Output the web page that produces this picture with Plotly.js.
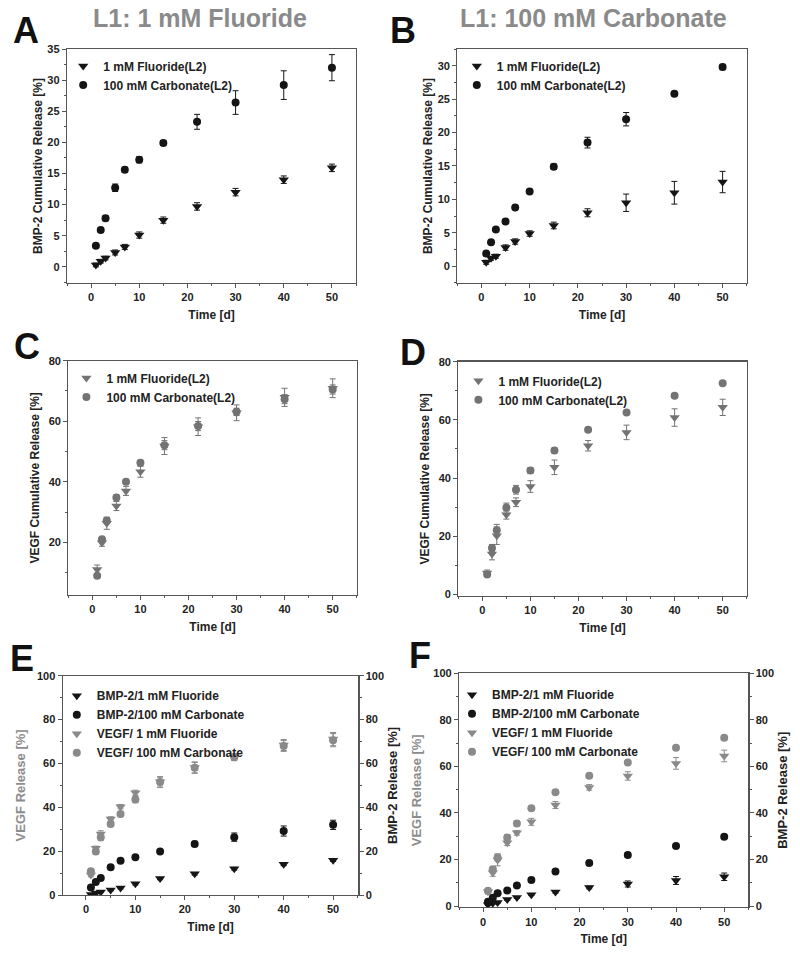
<!DOCTYPE html>
<html>
<head>
<meta charset="utf-8">
<script src="https://cdn.plot.ly/plotly-3.0.1.min.js"></script>
<style>html,body{margin:0;padding:0;background:#fff;}#chart{width:800px;height:954px;}</style>
</head>
<body>
<div id="chart"></div>
<script>
// Time points (days)
const days = [1, 2, 3, 5, 7, 10, 15, 22, 30, 40, 50];

// Panel A: L1 = 1 mM Fluoride, BMP-2 cumulative release
const aFluoride = [0.3, 0.9, 1.4, 2.3, 3.2, 5.1, 7.5, 9.7, 12.0, 14.0, 15.9];
const aFluorideErr = [0.3, 0.3, 0.3, 0.4, 0.4, 0.5, 0.5, 0.6, 0.6, 0.6, 0.6];
const aCarbonate = [3.4, 5.9, 7.8, 12.7, 15.6, 17.2, 19.9, 23.3, 26.4, 29.2, 32.0];
const aCarbonateErr = [0.3, 0.3, 0.4, 0.6, 0.4, 0.5, 0.4, 1.2, 1.9, 2.3, 2.1];

// Panel B: L1 = 100 mM Carbonate, BMP-2 cumulative release
const bFluoride = [0.6, 1.2, 1.5, 2.8, 3.7, 4.9, 6.1, 8.0, 9.5, 11.0, 12.6];
const bFluorideErr = [0.3, 0.3, 0.3, 0.4, 0.4, 0.4, 0.5, 0.6, 1.3, 1.7, 1.6];
const bCarbonate = [1.9, 3.6, 5.5, 6.7, 8.8, 11.2, 14.9, 18.5, 22.0, 25.8, 29.8];
const bCarbonateErr = [0.2, 0.3, 0.3, 0.3, 0.3, 0.3, 0.4, 0.8, 1.0, 0.3, 0.4];

// Panel C: L1 = 1 mM Fluoride, VEGF cumulative release
const cFluoride = [11.0, 19.9, 26.3, 32.0, 37.0, 43.3, 51.8, 58.2, 62.8, 67.9, 70.9];
const cFluorideErr = [1.5, 1.2, 2.0, 1.5, 1.5, 1.8, 2.8, 2.9, 2.6, 3.0, 3.1];
const cCarbonate = [9.0, 21.0, 27.2, 34.8, 40.0, 46.3, 52.1, 58.4, 63.1, 67.3, 70.5];
const cCarbonateErr = [0.6, 0.8, 1.0, 0.8, 0.8, 0.8, 1.5, 1.5, 1.2, 1.5, 1.5];

// Panel D: L1 = 100 mM Carbonate, VEGF cumulative release
const dFluoride = [7.4, 13.9, 20.2, 27.4, 31.7, 37.1, 43.7, 51.1, 55.7, 60.8, 64.3];
const dFluorideErr = [1.0, 2.0, 3.0, 1.5, 1.5, 2.0, 2.5, 1.8, 2.5, 3.0, 2.8];
const dCarbonate = [6.9, 16.0, 22.1, 29.9, 36.0, 42.6, 49.5, 56.6, 62.5, 68.3, 72.6];
const dCarbonateErr = [0.5, 1.2, 2.0, 1.5, 1.5, 1.0, 0.8, 0.5, 0.5, 0.5, 0.5];

// Panel E: VEGF (left axis) as drawn in the combined panel
const eVegfFluoride = [9.1, 21.3, 27.8, 34.7, 40.3, 46.6, 51.7, 58.2, 63.1, 68.4, 71.1];
const eVegfFluorideErr = [0.8, 1.0, 1.5, 1.0, 1.0, 1.2, 2.0, 2.5, 1.2, 2.5, 3.0];
const eVegfCarbonate = [10.9, 19.8, 26.3, 32.4, 36.9, 43.6, 51.5, 58.0, 62.8, 68.0, 70.6];
const eVegfCarbonateErr = [1.0, 1.2, 1.5, 1.2, 1.2, 1.5, 2.5, 2.5, 1.5, 2.5, 3.0];

// Panel F: VEGF (left axis) as drawn in the combined panel
const fVegfFluoride = [6.2, 14.3, 19.8, 27.2, 31.5, 36.2, 43.4, 51.0, 55.9, 61.3, 64.5];
const fVegfFluorideErr = [1.0, 1.5, 2.5, 1.2, 1.0, 1.5, 1.5, 1.2, 1.8, 2.5, 2.5];
const fVegfCarbonate = [6.6, 15.8, 20.9, 29.5, 35.5, 42.0, 48.9, 56.0, 61.7, 68.0, 72.3];
const fVegfCarbonateErr = [0.5, 1.0, 1.5, 1.2, 1.0, 0.8, 0.8, 0.5, 0.5, 0.5, 0.5];

// Labels
const legendAB = ['1 mM Fluoride(L2)', '100 mM Carbonate(L2)'];
const legendEF = ['BMP-2/1 mM Fluoride', 'BMP-2/100 mM Carbonate', 'VEGF/ 1 mM Fluoride', 'VEGF/ 100 mM Carbonate'];
const panelTitles = ['L1: 1 mM Fluoride', 'L1: 100 mM Carbonate'];
const panelLetters = ['A', 'B', 'C', 'D', 'E', 'F'];

const FONT = 'Liberation Sans, Arial, Helvetica, sans-serif';
const BLACK = '#151515';
const GRAY = '#737373';
const LGRAY = '#8a8a8a';
const AXC = '#555555';

function pts(x, y, err, sym, color, size, name, xa, ya, leg) {
  return {
    type: 'scatter', mode: 'markers', x: x, y: y, name: name,
    xaxis: xa, yaxis: ya, legend: leg,
    marker: {symbol: sym, color: color, size: size, line: {width: 0}},
    error_y: {type: 'data', array: err, visible: true, color: color, thickness: 1, width: 3}
  };
}

const data = [
  pts(days, aFluoride, aFluorideErr, 'triangle-down', BLACK, 9, legendAB[0], 'x', 'y', 'legend'),
  pts(days, aCarbonate, aCarbonateErr, 'circle', BLACK, 8, legendAB[1], 'x', 'y', 'legend'),
  pts(days, bFluoride, bFluorideErr, 'triangle-down', BLACK, 9, legendAB[0], 'x2', 'y2', 'legend2'),
  pts(days, bCarbonate, bCarbonateErr, 'circle', BLACK, 8, legendAB[1], 'x2', 'y2', 'legend2'),
  pts(days, cFluoride, cFluorideErr, 'triangle-down', GRAY, 9, legendAB[0], 'x3', 'y3', 'legend3'),
  pts(days, cCarbonate, cCarbonateErr, 'circle', GRAY, 8, legendAB[1], 'x3', 'y3', 'legend3'),
  pts(days, dFluoride, dFluorideErr, 'triangle-down', GRAY, 9, legendAB[0], 'x4', 'y4', 'legend4'),
  pts(days, dCarbonate, dCarbonateErr, 'circle', GRAY, 8, legendAB[1], 'x4', 'y4', 'legend4'),
  // Panel E
  pts(days, eVegfCarbonate, eVegfCarbonateErr, 'circle', LGRAY, 8, legendEF[3], 'x5', 'y5', 'legend5'),
  pts(days, eVegfFluoride, eVegfFluorideErr, 'triangle-down', LGRAY, 9, legendEF[2], 'x5', 'y5', 'legend5'),
  pts(days, aFluoride, aFluorideErr, 'triangle-down', BLACK, 9, legendEF[0], 'x5', 'y7', 'legend5'),
  pts(days, aCarbonate, aCarbonateErr, 'circle', BLACK, 8, legendEF[1], 'x5', 'y7', 'legend5'),
  // Panel F
  pts(days, fVegfFluoride, fVegfFluorideErr, 'triangle-down', LGRAY, 9, legendEF[2], 'x6', 'y6', 'legend6'),
  pts(days, fVegfCarbonate, fVegfCarbonateErr, 'circle', LGRAY, 8, legendEF[3], 'x6', 'y6', 'legend6'),
  pts(days, bFluoride, bFluorideErr, 'triangle-down', BLACK, 9, legendEF[0], 'x6', 'y8', 'legend6'),
  pts(days, bCarbonate, bCarbonateErr, 'circle', BLACK, 8, legendEF[1], 'x6', 'y8', 'legend6')
];
// legend order for E/F: BMP-2 first
data[8].legendrank = 4; data[9].legendrank = 3; data[10].legendrank = 1; data[11].legendrank = 2;
data[12].legendrank = 3; data[13].legendrank = 4; data[14].legendrank = 1; data[15].legendrank = 2;

const tickFont = {family: FONT, size: 11, color: '#222', weight: 'bold'};
const titleFont = {family: FONT, size: 12, color: '#222', weight: 'bold'};

function xax(domain, range, anchor) {
  return {
    domain: domain, range: range, anchor: anchor, tick0: 0, dtick: 10,
    ticks: 'outside', ticklen: 4, tickcolor: AXC, tickwidth: 1,
    minor: {dtick: 5, tick0: 0, ticks: 'outside', ticklen: 2, tickcolor: AXC},
    showline: true, linecolor: AXC, linewidth: 1.2, mirror: true,
    showgrid: false, zeroline: false, tickfont: tickFont,
    title: {text: 'Time [d]', font: titleFont, standoff: 8}
  };
}
function yax(domain, range, anchor, dtick, title, tcolor, standoff) {
  return {
    domain: domain, range: range, anchor: anchor, tick0: 0, dtick: dtick,
    ticks: 'outside', ticklen: 4, tickcolor: AXC, tickwidth: 1,
    minor: {dtick: dtick / 2, tick0: 0, ticks: 'outside', ticklen: 2, tickcolor: AXC},
    showline: true, linecolor: AXC, linewidth: 1.2, mirror: true,
    showgrid: false, zeroline: false, tickfont: tickFont,
    title: {text: title, font: Object.assign({}, titleFont, {color: tcolor, size: tcolor === '#222' ? 12 : 13}), standoff: standoff}
  };
}
function yright(domain, overlay, anchor) {
  return {
    overlaying: overlay, side: 'right', anchor: anchor, range: [overlay === 'y5' ? 0 : -0.5, 100],
    tick0: 0, dtick: 20, ticks: 'outside', ticklen: 4, tickcolor: AXC,
    minor: {dtick: 10, tick0: 0, ticks: 'outside', ticklen: 2, tickcolor: AXC},
    showline: true, linecolor: AXC, linewidth: 1.2, showgrid: false, zeroline: false,
    tickfont: tickFont,
    title: {text: 'BMP-2 Release [%]', font: Object.assign({}, titleFont, {size: 13}), standoff: 4}
  };
}
function leg(x, y) {
  return {x: x, y: y, xanchor: 'left', yanchor: 'top', bgcolor: 'rgba(0,0,0,0)', borderwidth: 0,
    font: {family: FONT, size: 12, color: '#222', weight: 'bold'}, itemwidth: 30, tracegroupgap: 0};
}

const layout = {
  width: 800, height: 954,
  margin: {l: 0, r: 0, t: 0, b: 0},
  paper_bgcolor: '#fff', plot_bgcolor: '#fff',
  showlegend: true,
  xaxis: xax([0.08375, 0.445], [-5, 55], 'y'),
  yaxis: yax([0.7034, 0.9486], [-2.6, 35], 'x', 5, 'BMP-2 Cumulative Release [%]', '#222', 2),
  xaxis2: xax([0.5716, 0.9334], [-5, 55], 'y2'),
  yaxis2: yax([0.7034, 0.9486], [-2.5, 32.5], 'x2', 5, 'BMP-2 Cumulative Release [%]', '#222', 2),
  xaxis3: xax([0.0854, 0.4459], [-5, 55], 'y3'),
  yaxis3: yax([0.3763, 0.6219], [2.6, 80], 'x3', 20, 'VEGF Cumulative Release [%]', '#222', 6),
  xaxis4: xax([0.5729, 0.9334], [-5, 55], 'y4'),
  yaxis4: yax([0.3753, 0.6209], [-0.5, 80], 'x4', 20, 'VEGF Cumulative Release [%]', '#222', 6),
  xaxis5: xax([0.0784, 0.4479], [-4.7, 55.1], 'y5'),
  yaxis5: yax([0.0618, 0.2917], [0, 100], 'x5', 20, 'VEGF Release [%]', '#8c8c8c', 8),
  xaxis6: xax([0.5738, 0.9354], [-5, 55], 'y6'),
  yaxis6: yax([0.0490, 0.2942], [-0.5, 100], 'x6', 20, 'VEGF Release [%]', '#8c8c8c', 8),
  yaxis7: yright(null, 'y5', 'x5'),
  yaxis8: yright(null, 'y6', 'x6'),
  legend: leg(0.079, 0.946),
  legend2: leg(0.571, 0.946),
  legend3: leg(0.083, 0.619),
  legend4: leg(0.573, 0.616),
  legend5: leg(0.071, 0.286),
  legend6: leg(0.565, 0.287),
  annotations: [
    {text: panelTitles[0], x: 200 / 800, y: 1 - 18 / 954, xref: 'paper', yref: 'paper', showarrow: false,
      xanchor: 'center', yanchor: 'middle', font: {family: FONT, size: 25, color: '#8a8a8a', weight: 'bold'}},
    {text: panelTitles[1], x: 593 / 800, y: 1 - 18 / 954, xref: 'paper', yref: 'paper', showarrow: false,
      xanchor: 'center', yanchor: 'middle', font: {family: FONT, size: 25, color: '#8a8a8a', weight: 'bold'}}
  ]
};

const letterPos = [[26, 31], [403, 31], [27, 347], [413, 352], [22, 658], [420, 655]];
panelLetters.forEach(function (L, i) {
  layout.annotations.push({text: L, x: letterPos[i][0] / 800, y: 1 - letterPos[i][1] / 954,
    xref: 'paper', yref: 'paper', showarrow: false, xanchor: 'center', yanchor: 'middle',
    font: {family: FONT, size: 36, color: '#111', weight: 'bold'}});
});

Plotly.newPlot('chart', data, layout, {displayModeBar: false, staticPlot: true});
</script>
</body>
</html>
